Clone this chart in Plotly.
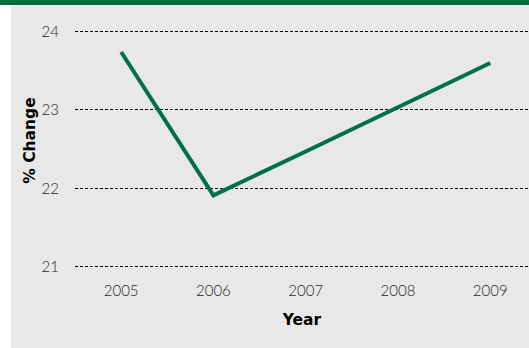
import plotly.graph_objects as go

years = [2005, 2006, 2007, 2008, 2009]
pct_change = [23.74, 21.91, 22.47, 23.03, 23.60]
y_ticks = [21, 22, 23, 24]
x_tick_labels = ["2005", "2006", "2007", "2008", "2009"]

W, H = 529, 348
ml, mr, mt, mb = 75, 0, 12, 79

fig = go.Figure()
fig.add_trace(go.Scatter(
    x=years, y=pct_change, mode="lines",
    line=dict(color="#00704A", width=4),
    hoverinfo="skip", showlegend=False,
))

pw = W - ml - mr
ph = H - mt - mb
def px(xp):
    return (xp - ml) / pw
def py(yp):
    return 1 - (yp - mt) / ph

fig.update_layout(
    width=W, height=H,
    margin=dict(l=ml, r=mr, t=mt, b=mb, pad=0),
    paper_bgcolor="#e8e8e8",
    plot_bgcolor="rgba(0,0,0,0)",
    font=dict(family="Lato, Open Sans, sans-serif", color="#222222"),
    xaxis=dict(
        range=[2004.5, 2009.42],
        tickvals=years, ticktext=x_tick_labels,
        showgrid=False, zeroline=False, showline=False,
        ticks="outside", ticklen=8, tickcolor="rgba(0,0,0,0)",
        tickfont=dict(size=15, color="#1e1e1e", weight=300),
        title=dict(text="<b>Year</b>", font=dict(family="DejaVu Sans", size=15.5, color="#000000"), standoff=16),
    ),
    yaxis=dict(
        range=[20.97, 24.25],
        tickvals=y_ticks,
        showgrid=True, gridcolor="#000000", gridwidth=1, griddash="3px,2px",
        zeroline=False, showline=False,
        ticks="outside", ticklen=12, tickcolor="rgba(0,0,0,0)",
        tickfont=dict(size=15, color="#1e1e1e", weight=300),
        title=dict(text="<b>% Change</b>", font=dict(family="DejaVu Sans", size=15.5, color="#000000"), standoff=2),
    ),
    shapes=[
        dict(type="rect", xref="paper", yref="paper",
             x0=px(0), x1=px(11), y0=py(H), y1=py(0),
             fillcolor="#ffffff", line=dict(width=0), layer="above"),
        dict(type="rect", xref="paper", yref="paper",
             x0=px(0), x1=px(W), y0=py(5), y1=py(0),
             fillcolor="#006B3F", line=dict(width=0), layer="above"),
    ],
)

fig.write_html("out.html")
